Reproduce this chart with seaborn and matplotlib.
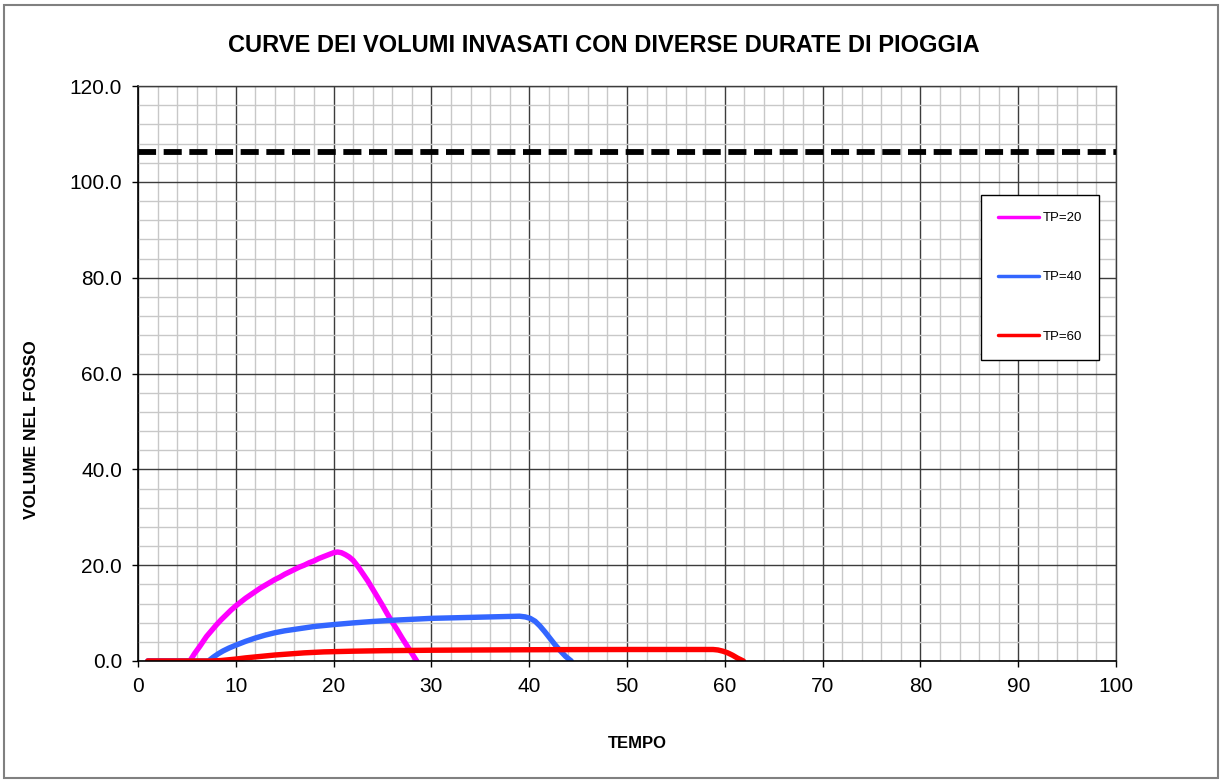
import numpy as np
import pandas as pd
import matplotlib
matplotlib.use("Agg")
import matplotlib.pyplot as plt
from matplotlib.ticker import MultipleLocator, FormatStrFormatter
from matplotlib.patches import Rectangle
import seaborn as sns

# --- dati -------------------------------------------------------------------
T_20 = [1, 2, 3, 4, 5, 5.3, 5.8, 6.3, 7.0, 7.5, 8.0, 8.5, 9.0, 9.5, 10.0, 10.5, 11.0, 11.5,
        12.0, 12.5, 13.0, 13.5, 14.0, 14.5, 15.0, 15.5, 16.0, 16.5, 17.0, 17.5, 18.0, 18.5,
        19.0, 19.5, 20.0, 20.4, 20.8, 21.2, 21.6, 22.0, 22.5, 23.0, 23.5, 24.0, 24.5, 25.0,
        25.5, 26.0, 26.5, 27.0, 27.5, 28.0, 28.5]
V_20 = [0, 0, 0, 0, 0, 0.0, 1.6, 3.0, 5.1, 6.3, 7.5, 8.6, 9.6, 10.6, 11.5, 12.3, 13.1, 13.8,
        14.5, 15.2, 15.8, 16.4, 17.0, 17.5, 18.1, 18.6, 19.1, 19.6, 20.0, 20.5, 20.9, 21.4,
        21.8, 22.2, 22.6, 22.75, 22.6, 22.2, 21.7, 21.0, 19.7, 18.2, 16.7, 15.0, 13.3, 11.6,
        9.8, 8.1, 6.5, 4.8, 3.2, 1.6, 0.0]

T_40 = [1, 3, 5, 7.2, 7.7, 8.2, 8.7, 9.3, 10, 11, 12, 13, 14, 15, 16, 17, 18, 19, 20, 22,
        24, 26, 28, 30, 32, 34, 36, 38, 39.0, 39.6, 40.1, 40.6, 41.1, 41.6, 42.1, 42.6, 43.1,
        43.7, 44.3]
V_40 = [0, 0, 0, 0.0, 0.8, 1.5, 2.1, 2.7, 3.3, 4.1, 4.8, 5.4, 5.9, 6.3, 6.6, 6.9, 7.2, 7.4,
        7.6, 7.95, 8.25, 8.5, 8.7, 8.9, 9.0, 9.1, 9.2, 9.3, 9.35, 9.2, 8.9, 8.3, 7.3, 6.1,
        4.8, 3.5, 2.3, 1.0, 0.0]

T_60 = [1, 3, 5, 7.5, 8.5, 9, 10, 11, 12, 13, 14, 15, 16, 17, 18, 19, 20, 22, 25, 30, 35,
        40, 45, 50, 55, 58.8, 59.3, 59.8, 60.3, 60.8, 61.3, 61.9]
V_60 = [0, 0, 0, 0, 0.1, 0.2, 0.4, 0.65, 0.85, 1.05, 1.25, 1.4, 1.55, 1.7, 1.8, 1.9, 1.95,
        2.05, 2.15, 2.25, 2.3, 2.35, 2.38, 2.4, 2.4, 2.4, 2.3, 2.05, 1.7, 1.2, 0.6, 0.0]

VOLUME_LIMITE = 106.2

SERIE  = ["TP=20", "TP=40", "TP=60"]
COLORI = ["#FF00FF", "#3366FF", "#FF0000"]

TITOLO = "CURVE DEI VOLUMI INVASATI CON DIVERSE DURATE DI PIOGGIA"

# --- stile ------------------------------------------------------------------
sns.set_style("white")
plt.rcParams.update({
    "font.family" : ["Liberation Sans", "DejaVu Sans"],
    "text.color"  : "black",
    "axes.labelcolor": "black",
    "xtick.color" : "black",
    "ytick.color" : "black",
})

fig = plt.figure(figsize=(12.23, 7.82), dpi=100)
fig.patch.set_facecolor("white")
ax = fig.add_axes([138 / 1223, 121 / 782, 978 / 1223, 575 / 782])

# griglia
ax.set_xlim(0, 100)
ax.set_ylim(0, 120)
ax.xaxis.set_major_locator(MultipleLocator(10))
ax.xaxis.set_minor_locator(MultipleLocator(2))
ax.yaxis.set_major_locator(MultipleLocator(20))
ax.yaxis.set_minor_locator(MultipleLocator(4))
ax.yaxis.set_major_formatter(FormatStrFormatter("%.1f"))
ax.grid(which="minor", color="#C8C8C8", linewidth=1.0)
ax.grid(which="major", color="#3C3C3C", linewidth=1.0)
ax.set_axisbelow(True)

for s in ["top", "right"]:
    ax.spines[s].set_color("#3C3C3C")
    ax.spines[s].set_linewidth(1.0)
for s in ["left", "bottom"]:
    ax.spines[s].set_color("black")
    ax.spines[s].set_linewidth(1.2)

ax.tick_params(axis="both", which="major", direction="out", length=4.5, width=1,
               color="black", labelsize=15, pad=7, left=True, bottom=True)
ax.tick_params(axis="both", which="minor", length=0)

# curve
for t, v, lab, col in zip([T_20, T_40, T_60], [V_20, V_40, V_60], SERIE, COLORI):
    d = pd.DataFrame({"tempo": t, "volume": v})
    sns.lineplot(data=d, x="tempo", y="volume", color=col, linewidth=3.9,
                 label=lab, sort=False, estimator=None, ax=ax,
                 solid_capstyle="round", solid_joinstyle="round")

ax.axhline(VOLUME_LIMITE, color="black", linewidth=4.2, linestyle=(0, (3.1, 1.3)),
           dash_capstyle="butt", zorder=3)

ax.set_xlabel("")
ax.set_ylabel("")
fig.text(637 / 1223, 1 - 744 / 782, "TEMPO", ha="center", va="center",
         fontsize=12, fontweight="bold")
fig.text(32 / 1223, 1 - 430 / 782, "VOLUME NEL FOSSO", ha="center", va="center",
         rotation=90, fontsize=12.5, fontweight="bold")
fig.text(604 / 1223, 1 - 45 / 782, TITOLO, ha="center", va="center",
         fontsize=17, fontweight="bold")

leg = ax.legend(loc="upper right", bbox_to_anchor=(0.9826, 0.8104), borderaxespad=0,
                fontsize=9.5, frameon=True, fancybox=False, edgecolor="black",
                framealpha=1, borderpad=1.3, labelspacing=3.55,
                handlelength=3.1, handletextpad=0.25)
leg.get_frame().set_linewidth(1.0)
for ln in leg.get_lines():
    ln.set_linewidth(2.5)

# cornice esterna
fig.patches.append(Rectangle((4 / 1223, 4 / 782), 1214 / 1223, 773 / 782,
                             transform=fig.transFigure, fill=False,
                             edgecolor="#808080", linewidth=1.5))

fig.savefig("out.png", dpi=100, facecolor="white")
